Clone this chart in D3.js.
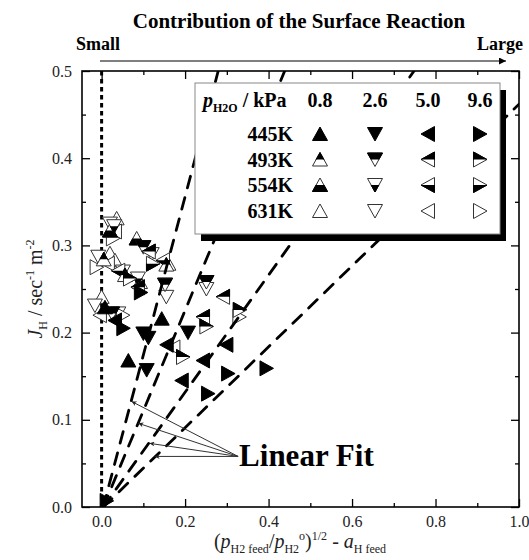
<!DOCTYPE html>
<html><head><meta charset="utf-8">
<script src="https://cdn.jsdelivr.net/npm/d3@7"></script>
<style>body{margin:0;background:#fff}svg{display:block}</style>
</head><body><svg id="c" width="529" height="560"></svg>
<script>
// ---- data ----
const temps = ["445K", "493K", "554K", "631K"];
const pressures = ["0.8", "2.6", "5.0", "9.6"];
const xTicks = [0.0, 0.2, 0.4, 0.6, 0.8, 1.0];
const yTicks = [0.0, 0.1, 0.2, 0.3, 0.4, 0.5];
// each point: [pressure, x, y]
const pts445 = [
  ["0.8",0.008,0.229],["0.8",0.144,0.216],["0.8",0.064,0.168],
  ["2.6",0.100,0.199],["2.6",0.112,0.194],["2.6",0.207,0.200],["2.6",0.108,0.157],
  ["5.0",0.032,0.214],["5.0",0.156,0.186],["5.0",0.243,0.168],["5.0",0.299,0.186],["5.0",0.192,0.145],
  ["9.6",0.094,0.246],["9.6",0.052,0.205],["9.6",0.303,0.153],["9.6",0.395,0.159],["9.6",0.255,0.130],["9.6",0.012,0.007]
];
const pts493 = [
  ["0.8",0.005,0.284],["0.8",0.056,0.266],["0.8",0.155,0.278],
  ["2.6",0.100,0.298],["2.6",0.025,0.222],["2.6",0.152,0.255],["2.6",0.251,0.258],
  ["5.0",0.113,0.293],["5.0",0.087,0.252],["5.0",0.243,0.218],["5.0",0.291,0.241],
  ["9.6",0.068,0.262],["9.6",0.251,0.207],["9.6",0.195,0.172],["9.6",0.331,0.226]
];
const pts554 = [
  ["0.8",0.020,0.317],["0.8",0.084,0.308],
  ["2.6",0.030,0.322],["2.6",0.051,0.270],["2.6",0.087,0.262],
  ["5.0",0.040,0.271],["5.0",0.147,0.283],
  ["9.6",0.123,0.279]
];
const pts631 = [
  ["0.8",0.036,0.331],["0.8",0.020,0.291],["0.8",0.032,0.283],["0.8",0.000,0.241],["0.8",0.092,0.258],["0.8",0.160,0.279],
  ["2.6",0.020,0.325],["2.6",-0.008,0.287],["2.6",-0.016,0.231],["2.6",0.040,0.222],["2.6",0.120,0.290],["2.6",0.155,0.241],["2.6",0.251,0.250],
  ["5.0",0.032,0.316],["5.0",0.015,0.279],["5.0",-0.004,0.220],["5.0",0.172,0.183],
  ["9.6",0.027,0.308],["9.6",-0.012,0.275],["9.6",0.051,0.220],["9.6",0.330,0.218]
];
const fitSlopes = [1.79, 1.14, 0.668, 0.462];
// arrow targets of "Linear Fit" annotation (data coords)
const fitArrowTargets = [[0.072,0.121],[0.088,0.096],[0.115,0.073],[0.127,0.058]];
const fitLabelAnchor = [0.327, 0.058];

// ---- layout ----
const svg = d3.select("#c");
const L = 82, R = 519, T = 71, B = 507;
const x = d3.scaleLinear().domain([-0.047, 1.0]).range([L, R]);
const y = d3.scaleLinear().domain([0, 0.5]).range([B, T]);
const font = "Liberation Serif";

const defs = svg.append("defs");
defs.append("clipPath").attr("id","topHalf").append("rect").attr("x",-10).attr("y",-10).attr("width",20).attr("height",10);
defs.append("clipPath").attr("id","botHalf").append("rect").attr("x",-10).attr("y",0).attr("width",20).attr("height",10);
defs.append("clipPath").attr("id","plotClip").append("rect").attr("x",L).attr("y",T).attr("width",R-L).attr("height",B-T);
defs.append("marker").attr("id","ah").attr("viewBox","0 0 10 10").attr("refX",10).attr("refY",5)
  .attr("markerWidth",9).attr("markerHeight",5).attr("markerUnits","userSpaceOnUse").attr("orient","auto")
  .append("path").attr("d","M0,0 L10,5 L0,10 L3,5 Z").attr("fill","#222");
defs.append("marker").attr("id","ahTop").attr("viewBox","0 0 10 10").attr("refX",10).attr("refY",5)
  .attr("markerWidth",10).attr("markerHeight",7).attr("markerUnits","userSpaceOnUse").attr("orient","auto")
  .append("path").attr("d","M0,0 L10,5 L0,10 Z").attr("fill","#000");

const shapes = {
  "0.8": "M0,-7 L7.5,6.5 L-7.5,6.5 Z",
  "2.6": "M0,7 L7.5,-6.5 L-7.5,-6.5 Z",
  "5.0": "M-7,0 L6.5,-7.5 L6.5,7.5 Z",
  "9.6": "M7,0 L-6.5,-7.5 L-6.5,7.5 Z"
};
function drawMarker(g, p, fill) {
  const d = shapes[p];
  if (fill === "full") {
    g.append("path").attr("d", d).attr("fill", "#000").attr("stroke", "#000").attr("stroke-width", 1);
  } else {
    g.append("path").attr("d", d).attr("fill", "#fff").attr("stroke", "#333").attr("stroke-width", 1);
    if (fill === "top" || fill === "bot") {
      g.append("path").attr("d", d).attr("fill", "#000").attr("stroke","#000").attr("stroke-width",1)
        .attr("clip-path", fill === "top" ? "url(#topHalf)" : "url(#botHalf)");
    }
  }
}
const fillOf = {"445K":"full","493K":"top","554K":"bot","631K":"open"};
const seriesData = [["631K",pts631],["554K",pts554],["493K",pts493],["445K",pts445]];

// ---- axes ----
function axisG(gen, tr) { return svg.append("g").attr("transform", tr).call(gen); }
const xMinor = [0.1,0.3,0.5,0.7,0.9];
const yMinor = [0.05,0.15,0.25,0.35,0.45];
const fmt = d3.format(".1f");
axisG(d3.axisBottom(x).tickValues(xTicks).tickFormat(fmt).tickSizeInner(-8).tickSizeOuter(0).tickPadding(9), `translate(0,${B})`);
axisG(d3.axisBottom(x).tickValues(xMinor).tickFormat("").tickSizeInner(-4).tickSizeOuter(0), `translate(0,${B})`);
axisG(d3.axisTop(x).tickValues(xTicks).tickFormat("").tickSizeInner(-8).tickSizeOuter(0), `translate(0,${T})`);
axisG(d3.axisTop(x).tickValues(xMinor).tickFormat("").tickSizeInner(-4).tickSizeOuter(0), `translate(0,${T})`);
axisG(d3.axisLeft(y).tickValues(yTicks).tickFormat(fmt).tickSizeInner(-8).tickSizeOuter(0).tickPadding(10), `translate(${L},0)`);
axisG(d3.axisLeft(y).tickValues(yMinor).tickFormat("").tickSizeInner(-4).tickSizeOuter(0), `translate(${L},0)`);
axisG(d3.axisRight(y).tickValues(yTicks).tickFormat("").tickSizeInner(-8).tickSizeOuter(0), `translate(${R},0)`);
axisG(d3.axisRight(y).tickValues(yMinor).tickFormat("").tickSizeInner(-4).tickSizeOuter(0), `translate(${R},0)`);
svg.selectAll(".domain").remove();
svg.selectAll("g").attr("font-family", font);
svg.selectAll(".tick line").attr("stroke","#000").attr("stroke-width",1.3);
svg.selectAll(".tick text").attr("font-family",font).attr("font-size",16).attr("fill","#222");
svg.append("rect").attr("x",L).attr("y",T).attr("width",R-L).attr("height",B-T)
  .attr("fill","none").attr("stroke","#000").attr("stroke-width",1.6);

// ---- plot content ----
const plot = svg.append("g").attr("clip-path","url(#plotClip)");
plot.append("line").attr("x1",x(0)).attr("x2",x(0)).attr("y1",y(0.5)).attr("y2",y(0))
  .attr("stroke","#000").attr("stroke-width",3).attr("stroke-dasharray","4.5,3.5");
seriesData.forEach(([t, arr]) => {
  arr.forEach(([p, xv, yv]) => {
    const g = plot.append("g").attr("transform", `translate(${x(xv)},${y(yv)})`);
    drawMarker(g, p, fillOf[t]);
  });
});
fitSlopes.forEach(s => {
  const xe = Math.min(1.0, 0.5 / s);
  plot.append("line").attr("x1", x(0.004)).attr("y1", y(0)).attr("x2", x(xe)).attr("y2", y(s * xe))
    .attr("stroke","#000").attr("stroke-width",2.8).attr("stroke-linecap","round").attr("stroke-dasharray","12,10");
});
fitArrowTargets.forEach(([tx, ty]) => {
  svg.append("line").attr("x1", x(fitLabelAnchor[0])).attr("y1", y(fitLabelAnchor[1]))
    .attr("x2", x(tx)).attr("y2", y(ty)).attr("stroke","#333").attr("stroke-width",1).attr("marker-end","url(#ah)");
});
svg.append("text").attr("font-family",font).attr("x", x(fitLabelAnchor[0]) + 1).attr("y", y(fitLabelAnchor[1]) + 10)
  .attr("font-size",31).attr("font-weight","bold").attr("fill","#000").text("Linear Fit");

// ---- legend ----
const lg = svg.append("g");
lg.append("rect").attr("x",201).attr("y",90).attr("width",305).attr("height",151).attr("fill","#000");
lg.append("rect").attr("x",195).attr("y",83).attr("width",305).attr("height",151).attr("fill","#fff").attr("stroke","#888").attr("stroke-width",1);
const colX = [320, 375, 428, 480];
const rowY = [134, 159.5, 185, 211];
const hdr = lg.append("text").attr("font-family",font).attr("x",203).attr("y",107).attr("font-size",20).attr("font-weight","bold");
hdr.append("tspan").attr("font-style","italic").text("p");
hdr.append("tspan").attr("font-size",12).attr("dy",5).text("H2O");
hdr.append("tspan").attr("dy",-5).text(" / kPa");
pressures.forEach((p, i) => {
  lg.append("text").attr("font-family",font).attr("x", colX[i]).attr("y", 107).attr("text-anchor","middle").attr("font-size",20).attr("font-weight","bold").text(p);
});
temps.forEach((t, j) => {
  lg.append("text").attr("font-family",font).attr("x", 293).attr("y", rowY[j] + 7).attr("text-anchor","end").attr("font-size",20).attr("font-weight","bold").text(t);
  pressures.forEach((p, i) => {
    const g = lg.append("g").attr("transform", `translate(${colX[i]},${rowY[j]})`);
    drawMarker(g, p, fillOf[t]);
  });
});

// ---- titles ----
svg.append("text").attr("font-family",font).attr("x",299).attr("y",28).attr("text-anchor","middle").attr("font-size",21).attr("font-weight","bold").text("Contribution of the Surface Reaction");
svg.append("text").attr("font-family",font).attr("x",76).attr("y",50).attr("font-size",18).attr("font-weight","bold").text("Small");
svg.append("text").attr("font-family",font).attr("x",523).attr("y",50).attr("text-anchor","end").attr("font-size",18).attr("font-weight","bold").text("Large");
svg.append("line").attr("x1",100).attr("x2",506).attr("y1",61).attr("y2",61).attr("stroke","#000").attr("stroke-width",1.2).attr("marker-end","url(#ahTop)");

const xt = svg.append("text").attr("font-family",font).attr("x",300).attr("y",548).attr("text-anchor","middle").attr("font-size",20).attr("fill","#222");
xt.append("tspan").text("(");
xt.append("tspan").attr("font-style","italic").text("p");
xt.append("tspan").attr("font-size",12).attr("dy",5).text("H2 feed");
xt.append("tspan").attr("dy",-5).text("/");
xt.append("tspan").attr("font-style","italic").text("p");
xt.append("tspan").attr("font-size",12).attr("dy",5).text("H2");
xt.append("tspan").attr("font-size",12).attr("dy",-13).text("o");
xt.append("tspan").attr("dy",8).text(")");
xt.append("tspan").attr("font-size",12).attr("dy",-8).text("1/2");
xt.append("tspan").attr("dy",8).text(" - ");
xt.append("tspan").attr("font-style","italic").text("a");
xt.append("tspan").attr("font-size",12).attr("dy",5).text("H feed");

const yt = svg.append("text").attr("font-family",font).attr("transform","translate(42,289) rotate(-90)").attr("text-anchor","middle").attr("font-size",20).attr("fill","#222");
yt.append("tspan").attr("font-style","italic").text("J");
yt.append("tspan").attr("font-size",12).attr("dy",5).text("H");
yt.append("tspan").attr("dy",-5).text(" / sec");
yt.append("tspan").attr("font-size",12).attr("dy",-8).text("-1");
yt.append("tspan").attr("dy",8).text(" m");
yt.append("tspan").attr("font-size",12).attr("dy",-8).text("-2");
</script></body></html>
